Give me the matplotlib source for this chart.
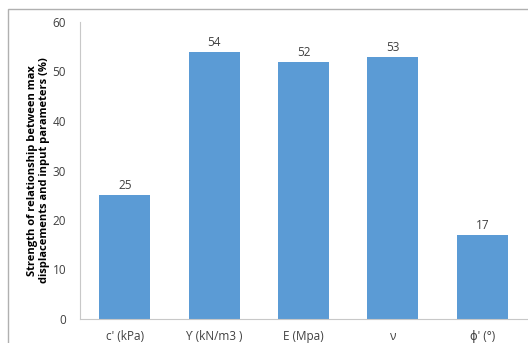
import matplotlib
matplotlib.use("Agg")
import matplotlib.pyplot as plt
from matplotlib.patches import Rectangle

categories = ["c' (kPa)", "ϒ (kN/m3 )", "E (Mpa)", "ν", "ϕ' (°)"]
strength = [25, 54, 52, 53, 17]

plt.rcParams['font.family'] = ['Open Sans', 'DejaVu Sans']

fig = plt.figure(figsize=(5.28, 3.43), dpi=100)
ax = fig.add_axes([80 / 528, 1 - 319 / 343, 447 / 528, 297 / 343])

# outer chart frame
fig.patches.append(Rectangle((8 / 528, -0.1), 1.2, 1 - 9 / 343 + 0.1,
                             transform=fig.transFigure, fill=False,
                             edgecolor="#b0b0b0", linewidth=1.0))

x = range(len(categories))
bars = ax.bar(x, strength, width=0.57, color="#5b9bd5")
for i, v in enumerate(strength):
    ax.text(i, v + 0.6, f"{v}", ha="center", va="bottom", fontsize=8.5, color="#404040")

ax.set_xlim(-0.5, len(categories) - 0.5)
ax.set_ylim(0, 60)
ax.set_yticks(range(0, 61, 10))
ax.set_xticks(list(x))
ax.set_xticklabels(categories)
ax.tick_params(axis="both", length=0, labelsize=8.5, colors="#404040")
ax.tick_params(axis="y", pad=10)
ax.tick_params(axis="x", pad=8)

for side in ["top", "right"]:
    ax.spines[side].set_visible(False)
for side in ["left", "bottom"]:
    ax.spines[side].set_color("#c8c8c8")

ax.set_ylabel("Strength of relationship between max\ndisplacements and input parameters (%)",
              fontsize=8, fontweight="bold", linespacing=1.1)
ax.yaxis.set_label_coords(-0.068, 0.5)

fig.savefig("out.png", dpi=100)
